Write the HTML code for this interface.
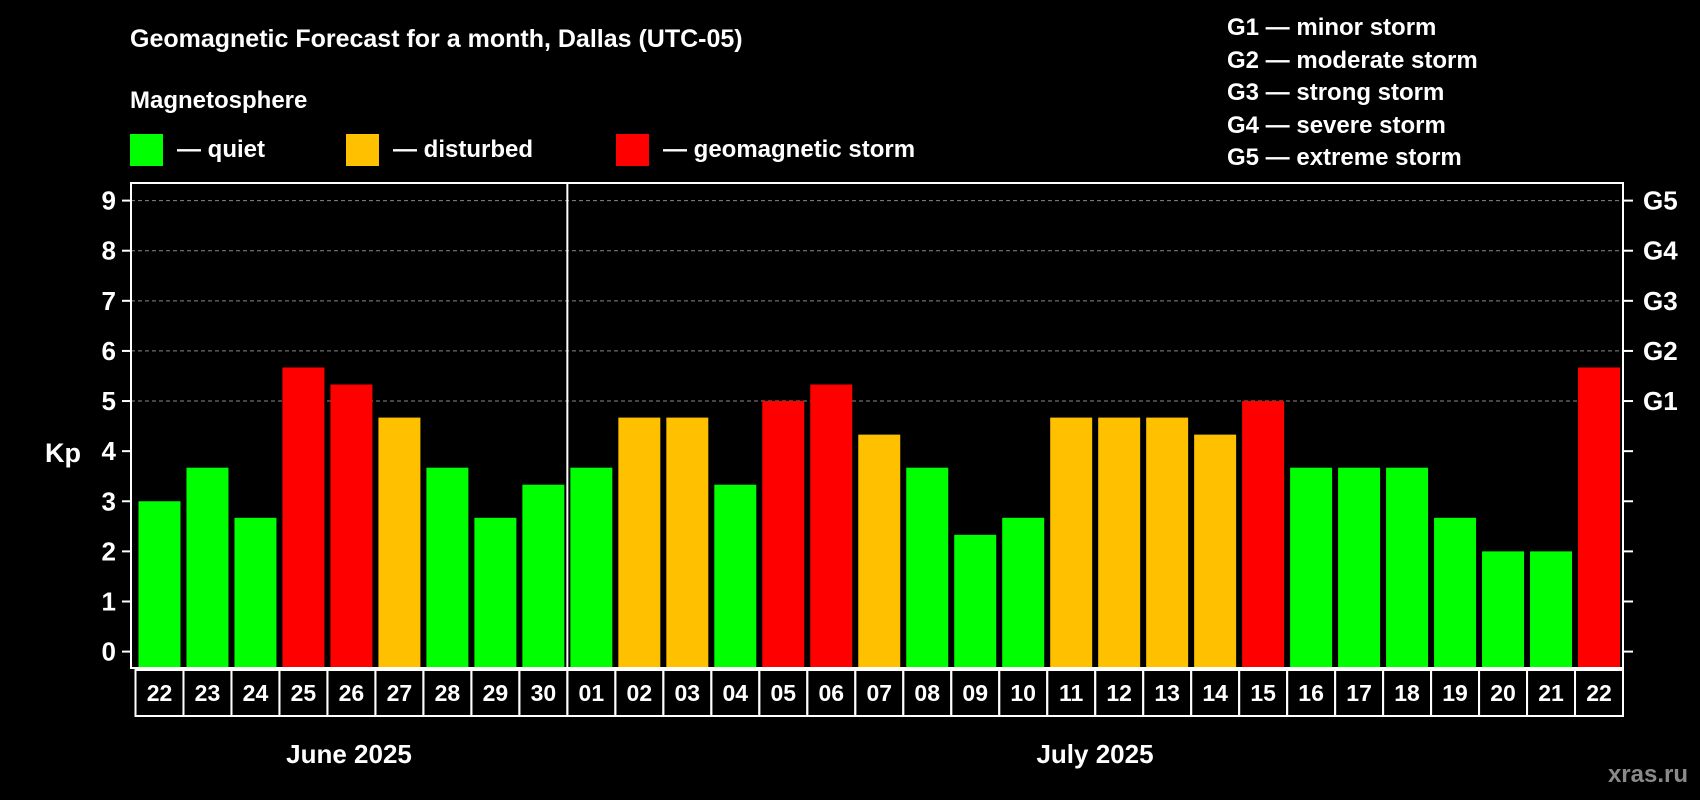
<!DOCTYPE html>
<html><head><meta charset="utf-8"><style>
html,body{margin:0;padding:0;background:#000;width:1700px;height:800px;overflow:hidden}
svg{display:block;font-family:"Liberation Sans",Arial,sans-serif;font-weight:bold}
</style></head><body>
<svg id="chart" width="1700" height="800" viewBox="0 0 1700 800">
<rect width="1700" height="800" fill="#000"/>
<text x="130" y="47" fill="#fff" font-size="25">Geomagnetic Forecast for a month, Dallas (UTC-05)</text>
<text x="130" y="108" fill="#fff" font-size="24">Magnetosphere</text>
<g><rect x="130" y="134" width="33" height="32" fill="#00ff00"/><text x="177" y="157" fill="#fff" font-size="24">— quiet</text></g>
<g><rect x="346" y="134" width="33" height="32" fill="#ffc000"/><text x="393" y="157" fill="#fff" font-size="24">— disturbed</text></g>
<g><rect x="616" y="134" width="33" height="32" fill="#ff0000"/><text x="663" y="157" fill="#fff" font-size="24">— geomagnetic storm</text></g>
<g font-size="24" fill="#fff">
<text x="1227" y="35">G1 — minor storm</text>
<text x="1227" y="68">G2 — moderate storm</text>
<text x="1227" y="100">G3 — strong storm</text>
<text x="1227" y="133">G4 — severe storm</text>
<text x="1227" y="165">G5 — extreme storm</text>
</g>
<text x="63" y="462" fill="#fff" font-size="27" text-anchor="middle">Kp</text>
<g id="grid"></g><g id="bars"></g><g id="axes"></g><g id="dates"></g>
<text x="349" y="763" fill="#fff" font-size="26" text-anchor="middle">June 2025</text>
<text x="1095" y="763" fill="#fff" font-size="26" text-anchor="middle">July 2025</text>
<text x="1688" y="782" fill="#8a8a8a" font-size="24" text-anchor="end">xras.ru</text>
</svg>
<script>
const days = ["22","23","24","25","26","27","28","29","30","01","02","03","04","05","06","07","08","09","10","11","12","13","14","15","16","17","18","19","20","21","22"];
const kpValues = [3,3.67,2.67,5.67,5.33,4.67,3.67,2.67,3.33,3.67,4.67,4.67,3.33,5,5.33,4.33,3.67,2.33,2.67,4.67,4.67,4.67,4.33,5,3.67,3.67,3.67,2.67,2,2,5.67];
const yTicks = [0,1,2,3,4,5,6,7,8,9];
const gLabels = ["G1","G2","G3","G4","G5"];
const gLevels = [5,6,7,8,9];
const monthSplitIndex = 9;

const NS="http://www.w3.org/2000/svg";
const L=131,R=1623,T=183,B=668,DL=135.5,DR=1623;
const slot=(DR-DL)/days.length;
const y=v=>651.6-v*(651.6-200.6)/9;
const x=i=>DL+i*slot;
function mk(tag,attrs,parent,txt){const e=document.createElementNS(NS,tag);for(const k in attrs)e.setAttribute(k,attrs[k]);if(txt!==undefined)e.textContent=txt;parent.appendChild(e);return e;}
const grid=document.getElementById('grid'),bars=document.getElementById('bars'),axes=document.getElementById('axes'),dates=document.getElementById('dates');
yTicks.forEach(v=>{
  if(v>=5){const g=mk('line',{x1:L,x2:R,y1:y(v),y2:y(v),stroke:'#888','stroke-dasharray':'4 3','stroke-width':1},grid);
  
  }
  const t=mk('line',{x1:L-9,x2:L,y1:y(v),y2:y(v),stroke:'#fff','stroke-width':2},axes);
  
  
  const t2=mk('line',{x1:R,x2:R+10,y1:y(v),y2:y(v),stroke:'#fff','stroke-width':2},axes);
  
  
  const lb=mk('text',{x:L-15,y:y(v)+9,fill:'#fff','font-size':26,'text-anchor':'end'},axes,String(v));
  
  
});
gLabels.forEach((g,i)=>{
  const lb=mk('text',{x:R+20,y:y(gLevels[i])+9,fill:'#fff','font-size':26},axes,g);
  
  
});
kpValues.forEach((v,i)=>{
  const c=v>=5?'#ff0000':(v>=4?'#ffc000':'#00ff00');
  const b=mk('rect',{x:x(i)+3,y:y(v),width:slot-6,height:B-y(v),fill:c},bars);
  
  
  const d=mk('rect',{x:x(i),y:B+2,width:slot,height:46,fill:'none',stroke:'#fff','stroke-width':2},dates);
  
  
  const dt=mk('text',{x:x(i)+slot/2,y:B+33,fill:'#fff','font-size':23,'text-anchor':'middle'},dates,days[i]);
  
  
});
const fr=mk('rect',{x:L,y:T,width:R-L,height:B-T,fill:'none',stroke:'#fff','stroke-width':2},axes);


const dv=mk('line',{x1:x(monthSplitIndex),x2:x(monthSplitIndex),y1:T,y2:B,stroke:'#fff','stroke-width':2},axes);


</script>
</body></html>
